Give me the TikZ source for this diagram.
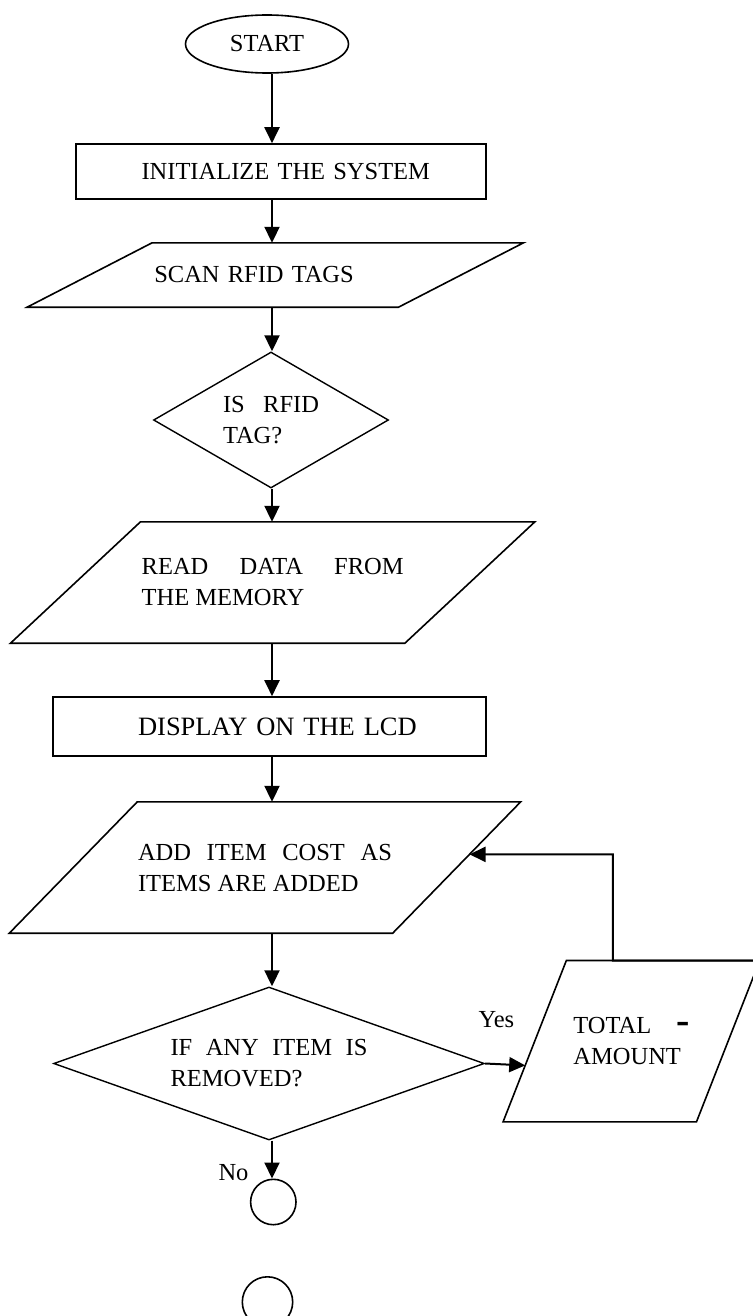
\documentclass[tikz,border=0pt]{standalone}
\usepackage{fontspec}
\setmainfont{Liberation Serif}
\usetikzlibrary{shapes.geometric,arrows.meta,calc}

\begin{document}
\begin{tikzpicture}[x=1pt,y=-1pt,
  font=\fontsize{24.5}{31}\selectfont,
  outline/.style={draw,line width=1.6pt},
  termbox/.style={outline,ellipse,inner sep=0pt,minimum width=163,minimum height=58},
  procbox/.style={outline,rectangle,inner sep=2pt},
  iobox/.style={rectangle,inner sep=2pt,
    append after command={\pgfextra{\edef\ioname{\tikzlastnode}%
      \draw[outline] ([xshift=#1/2]\ioname.north west) coordinate (\ioname-tl)
        -- ([xshift=#1/2]\ioname.north east) coordinate (\ioname-tr)
        -- ([xshift=-#1/2]\ioname.south east) coordinate (\ioname-br)
        -- ([xshift=-#1/2]\ioname.south west) coordinate (\ioname-bl) -- cycle;}}},
  decbox/.style={outline,line width=1.4pt,diamond,inner sep=0pt},
  conbox/.style={outline,circle,inner sep=0pt},
  flow/.style={line width=2pt,-{Triangle[length=16pt,width=15pt]}}]
   \useasboundingbox (0,0) rectangle (752,1316);
   \coordinate (axis) at (272,0);

   \node[termbox] (start) at (267,44) {START};
   \node[procbox,minimum width=410,minimum height=55,text width=298,align=right] (init) at (281,171.5) {INITIALIZE THE SYSTEM};
   \node[iobox=125,minimum width=371,minimum height=64,text width=242,align=left] (scan) at (275.3,275) {SCAN RFID TAGS};
   \node[decbox,aspect=1.73,minimum width=235,minimum height=136,text width=96,align=justify] (isrfid) at (271,420) {IS RFID\linebreak TAG?};
   \node[iobox=130,minimum width=394,minimum height=121,text width=262,align=justify] (read) at (272.7,582.5) {READ DATA FROM\linebreak THE MEMORY};
   \node[procbox,minimum width=433,minimum height=59,text width=295,align=right,font=\fontsize{26.5}{31}\selectfont] (lcd) at (269.3,726.5) {DISPLAY ON THE LCD};
   \node[iobox=128,minimum width=383,minimum height=131,text width=254,align=justify] (add) at (265,867.5) {ADD ITEM COST AS\linebreak ITEMS ARE ADDED};
   \node[decbox,aspect=2.815,minimum width=430.7,minimum height=153,text width=197,align=justify] (removed) at (269,1063.5) {IF ANY ITEM IS\linebreak REMOVED?};
   \node[iobox=63.3,minimum width=193,minimum height=161,text width=116,align=justify] (total) at (631.4,1041.2) {TOTAL {\fontsize{40}{40}\bfseries -}\linebreak AMOUNT};
   \node[conbox,minimum size=45.4] (stopA) at (273.3,1202) {};
   \node[conbox,minimum size=50.4] (stopB) at (267.5,1302) {};
   \node[anchor=base west] (yes) at (475,1027) {Yes};
   \node[anchor=base west] (no) at (215,1180) {No};

   \coordinate (yestip) at ($(total-tl)!0.65!(total-bl)$);
   \coordinate (fbstart) at ($(total-tl)!0.24!(total-tr)$);
   \coordinate (fbend) at ($(add-tr)!0.4!(add-br)$);

   \draw[flow] (start.south -| axis) -- (init.north -| axis);
   \draw[flow] (init.south -| axis) -- (scan.north -| axis);
   \draw[flow] (scan.south -| axis) -- (isrfid.north -| axis);
   \draw[flow] (isrfid.south -| axis) -- (read.north -| axis);
   \draw[flow] (read.south -| axis) -- (lcd.north -| axis);
   \draw[flow] (lcd.south -| axis) -- (add.north -| axis);
   \draw[flow] (add.south -| axis) -- (removed.north -| axis);
   \draw[flow] (removed.south -| axis) -- (stopA.north -| axis);
   \draw[flow] (removed.east) -- (yestip);
   \draw[flow] (total-tr) -- (fbstart) |- (fbend);
\end{tikzpicture}
\end{document}
